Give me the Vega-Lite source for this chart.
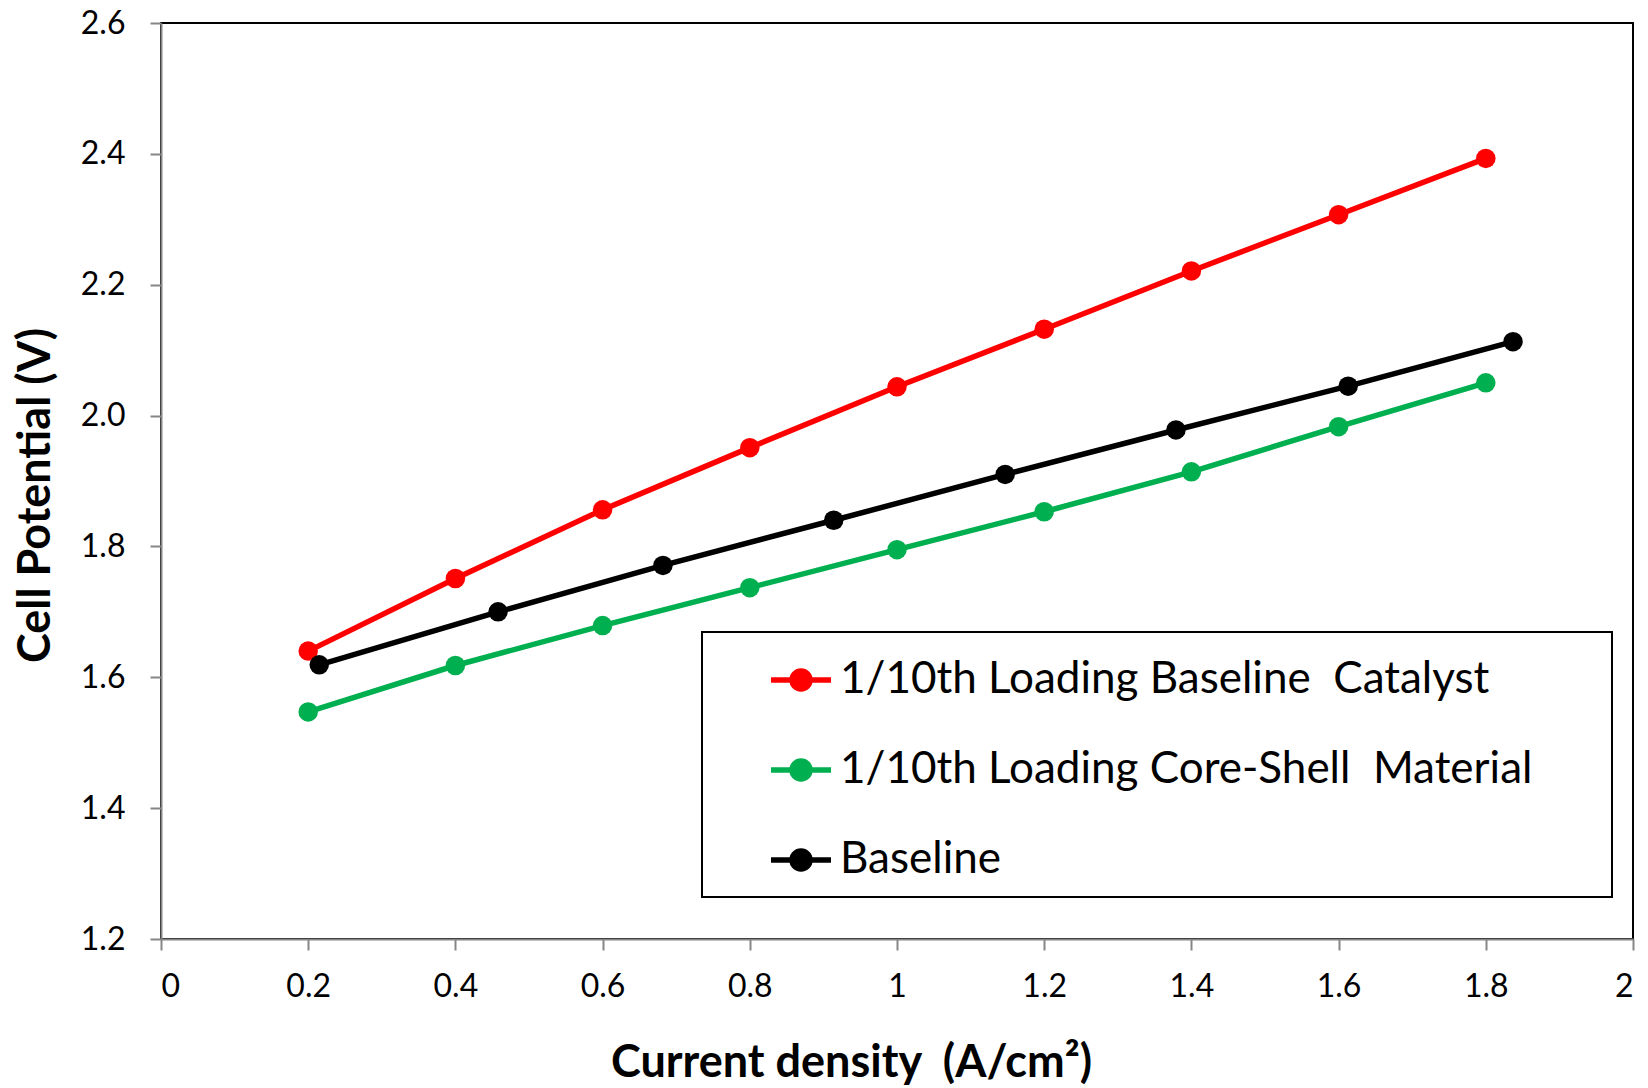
{
  "$schema": "https://vega.github.io/schema/vega-lite/v6.json",
  "width": 1472,
  "height": 916,
  "autosize": "none",
  "padding": {"left": 161, "top": 23, "right": 15, "bottom": 149},
  "background": "white",
  "config": {
    "view": {"stroke": "black", "strokeWidth": 2},
    "font": "Lato"
  },
  "data": {
    "values": [
      {"series": "1/10th Loading Baseline  Catalyst", "j": 0.2, "v": 1.640},
      {"series": "1/10th Loading Baseline  Catalyst", "j": 0.4, "v": 1.751},
      {"series": "1/10th Loading Baseline  Catalyst", "j": 0.6, "v": 1.856},
      {"series": "1/10th Loading Baseline  Catalyst", "j": 0.8, "v": 1.951},
      {"series": "1/10th Loading Baseline  Catalyst", "j": 1.0, "v": 2.044},
      {"series": "1/10th Loading Baseline  Catalyst", "j": 1.2, "v": 2.132},
      {"series": "1/10th Loading Baseline  Catalyst", "j": 1.4, "v": 2.221},
      {"series": "1/10th Loading Baseline  Catalyst", "j": 1.6, "v": 2.307},
      {"series": "1/10th Loading Baseline  Catalyst", "j": 1.8, "v": 2.393},
      {"series": "1/10th Loading Core-Shell  Material", "j": 0.2, "v": 1.547},
      {"series": "1/10th Loading Core-Shell  Material", "j": 0.4, "v": 1.618},
      {"series": "1/10th Loading Core-Shell  Material", "j": 0.6, "v": 1.679},
      {"series": "1/10th Loading Core-Shell  Material", "j": 0.8, "v": 1.737},
      {"series": "1/10th Loading Core-Shell  Material", "j": 1.0, "v": 1.795},
      {"series": "1/10th Loading Core-Shell  Material", "j": 1.2, "v": 1.853},
      {"series": "1/10th Loading Core-Shell  Material", "j": 1.4, "v": 1.914},
      {"series": "1/10th Loading Core-Shell  Material", "j": 1.6, "v": 1.983},
      {"series": "1/10th Loading Core-Shell  Material", "j": 1.8, "v": 2.050},
      {"series": "Baseline", "j": 0.215, "v": 1.619},
      {"series": "Baseline", "j": 0.458, "v": 1.700},
      {"series": "Baseline", "j": 0.682, "v": 1.771},
      {"series": "Baseline", "j": 0.914, "v": 1.840},
      {"series": "Baseline", "j": 1.147, "v": 1.910},
      {"series": "Baseline", "j": 1.379, "v": 1.978},
      {"series": "Baseline", "j": 1.613, "v": 2.045},
      {"series": "Baseline", "j": 1.837, "v": 2.113}
    ]
  },
  "encoding": {
    "x": {
      "field": "j", "type": "quantitative",
      "scale": {"domain": [0, 2], "nice": false},
      "axis": {
        "title": "Current density \u00a0(A/cm²)",
        "values": [0, 0.2, 0.4, 0.6, 0.8, 1, 1.2, 1.4, 1.6, 1.8, 2],
        "format": "~g",
        "grid": false,
        "domainColor": "#868686", "domainWidth": 2,
        "tickColor": "#868686", "tickWidth": 2, "tickSize": 11,
        "labelFontSize": 32, "labelColor": "black", "labelPadding": 21, "labelFont": "Lato",
        "titleFontSize": 45, "titleFontWeight": "bold", "titleColor": "black", "titleFont": "Lato",
        "titleX": 690, "titleY": 137, "titleBaseline": "alphabetic", "titleAlign": "center"
      }
    },
    "y": {
      "field": "v", "type": "quantitative",
      "scale": {"domain": [1.2, 2.6], "nice": false, "zero": false},
      "axis": {
        "title": "Cell Potential (V)",
        "values": [1.2, 1.4, 1.6, 1.8, 2.0, 2.2, 2.4, 2.6],
        "format": ".1f",
        "grid": false,
        "domainColor": "#868686", "domainWidth": 2,
        "tickColor": "#868686", "tickWidth": 2, "tickSize": 11,
        "labelFontSize": 32, "labelColor": "black", "labelPadding": 25, "labelFont": "Lato",
        "titleFontSize": 45, "titleFontWeight": "bold", "titleColor": "black", "titleFont": "Lato",
        "titleX": -126, "titleY": 472, "titleAngle": -90, "titleBaseline": "middle", "titleAlign": "center"
      }
    },
    "color": {
      "field": "series", "type": "nominal",
      "scale": {
        "domain": ["1/10th Loading Baseline  Catalyst", "1/10th Loading Core-Shell  Material", "Baseline"],
        "range": ["#FF0000", "#00B050", "#000000"]
      },
      "legend": {
        "title": null,
        "orient": "none",
        "legendX": 541,
        "legendY": 609,
        "direction": "vertical",
        "fillColor": "white",
        "strokeColor": "black",
        "padding": 15,
        "symbolOffset": 51,
        "labelFontSize": 44,
        "labelFont": "Lato",
        "labelColor": "black",
        "labelOffset": 6,
        "labelLimit": 1200,
        "rowPadding": 35,
        "labelExpr": "replace(datum.label, '  ', ' \u00a0') + '\u2800\u2800'",
        "symbolType": "M-1,0H1M-0.3,0A0.3,0.3 0 1,0 0.3,0A0.3,0.3 0 1,0 -0.3,0Z",
        "symbolSize": 3600,
        "symbolStrokeWidth": 5.5,
        "offset": 0,
        "encode": {
          "legend": {"update": {"strokeWidth": {"value": 2}}},
          "symbols": {"update": {"fill": {"scale": "color", "field": "value"}}}
        }
      }
    }
  },
  "layer": [
    {
      "mark": {"type": "line", "strokeWidth": 5.5},
      "encoding": {"order": {"field": "j", "type": "quantitative"}}
    },
    {
      "mark": {"type": "point", "filled": true, "size": 380, "opacity": 1},
      "encoding": {}
    }
  ]
}
